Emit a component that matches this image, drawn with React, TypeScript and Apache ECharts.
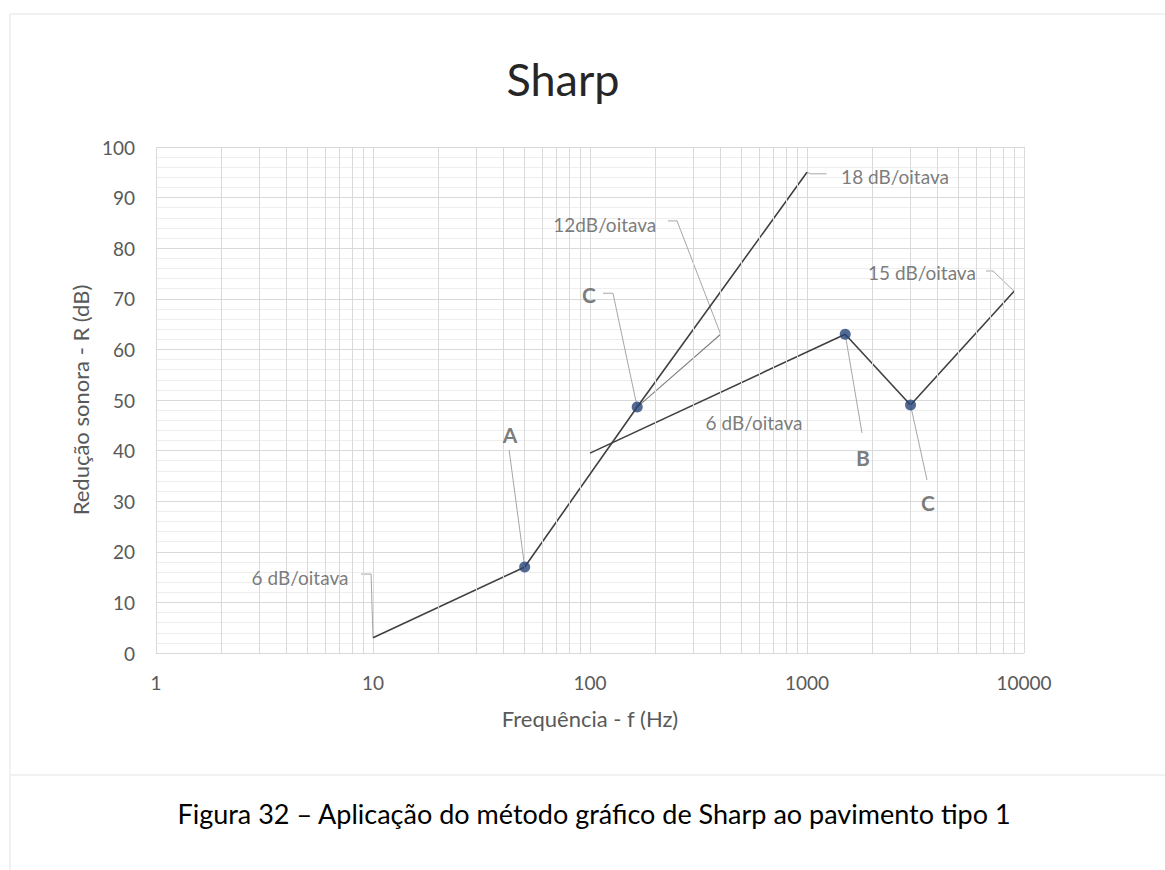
import React, { useEffect, useRef } from "react";
import * as echarts from "echarts";

// ---- data (frequency in Hz, sound reduction R in dB) ----
const FREQ_LOW = [10, 50];
const R_LOW = [3, 17];
const FREQ_18 = [50, 165, 1000];
const R_18 = [17, 48.6, 95];
const FREQ_12 = [165, 400];
const R_12 = [48.6, 63];
const FREQ_6 = [100, 1500];
const R_6 = [39.5, 63];
const FREQ_HIGH = [1500, 3000, 9000];
const R_HIGH = [63, 49, 71.5];
const POINT_FREQ = [50, 165, 1500, 3000];
const POINT_R = [17, 48.6, 63, 49];

const X_TICK_VALUES = [1, 10, 100, 1000, 10000];
const X_TICK_LABELS = ["1", "10", "100", "1000", "10000"];
const MINOR_FREQ = [
  2, 3, 4, 5, 6, 7, 8, 9,
  20, 30, 40, 50, 60, 70, 80, 90,
  200, 300, 400, 500, 600, 700, 800, 900,
  2000, 3000, 4000, 5000, 6000, 7000, 8000, 9000,
];

const LABEL_TEXT = ["A", "6 dB/oitava", "C", "12dB/oitava", "18 dB/oitava", "15 dB/oitava", "6 dB/oitava", "B", "C"];
const LABEL_FREQ = [42.8, 4.61, 98.9, 117, 2545, 3388, 570, 1811, 3612];
const LABEL_R = [43.1, 15.0, 70.8, 84.6, 94.1, 75.1, 45.6, 38.7, 29.8];
const LABEL_BOLD = [true, false, true, false, false, false, false, true, true];

const LEADER_A = [[42.4, 40.1], [50, 17]];
const LEADER_6_LOW = [[8.8, 15.6], [9.8, 15.6], [10, 3]];
const LEADER_C1 = [[114.8, 71.1], [127.6, 71.1], [165, 48.6]];
const LEADER_12 = [[228.7, 85.4], [251.8, 85.4], [400, 63]];
const LEADER_18 = [[1230, 94.7], [1040, 94.7], [1000, 95]];
const LEADER_15 = [[6683, 75.5], [7197, 75.5], [9000, 71.5]];
const LEADER_B = [[1500, 63], [1792, 43.5]];
const LEADER_C2 = [[3000, 49], [3573, 34.2]];
const LEADERS = [LEADER_A, LEADER_6_LOW, LEADER_C1, LEADER_12, LEADER_18, LEADER_15, LEADER_B, LEADER_C2];

const TITLE = "Sharp";
const X_NAME = "Frequência - f (Hz)";
const Y_NAME = "Redução sonora - R (dB)";
const CAPTION = "Figura 32 – Aplicação do método gráfico de Sharp ao pavimento tipo 1";

const FONT = "Lato, 'Open Sans', sans-serif";
const pair = (xs: number[], ys: number[]) => xs.map((x, i) => [x, ys[i]]);

export default function App() {
  const ref = useRef<HTMLDivElement>(null);
  useEffect(() => {
    document.body.style.margin = "0";
    if (!ref.current) return;
    const chart = echarts.init(ref.current, undefined, { renderer: "svg" });
    const mainLine = (name: string, data: number[][]) => ({
      name,
      type: "line",
      data,
      showSymbol: false,
      symbol: "none",
      z: 4,
      lineStyle: { color: "#404040", width: 1.6 },
    });
    const leaderSeries = LEADERS.map((d, i) => ({
      name: "leader" + i,
      type: "line",
      data: d,
      symbol: "none",
      z: 3,
      lineStyle: { color: "#a6a6a6", width: 1 },
    }));
    chart.setOption({
      animation: false,
      backgroundColor: "#ffffff",
      grid: { left: 156, top: 147, width: 868, height: 506, containLabel: false },
      xAxis: {
        type: "log",
        logBase: 10,
        min: 1,
        max: 10000,
        name: X_NAME,
        nameLocation: "middle",
        nameGap: 54,
        nameTextStyle: { color: "#595959", fontSize: 22, fontFamily: FONT },
        axisLine: { show: false },
        axisTick: { show: false },
        axisLabel: {
          color: "#595959",
          fontSize: 19,
          fontFamily: FONT,
          margin: 20,
          formatter: (v: number) => {
            const i = X_TICK_VALUES.findIndex((t) => Math.abs(t - v) < 1e-6 * t);
            return i >= 0 ? X_TICK_LABELS[i] : "";
          },
        },
        splitLine: { show: true, lineStyle: { color: "#d9d9d9", width: 1 } },
      },
      yAxis: {
        type: "value",
        min: 0,
        max: 100,
        interval: 10,
        name: Y_NAME,
        nameLocation: "middle",
        nameGap: 64,
        nameTextStyle: { color: "#595959", fontSize: 22, fontFamily: FONT },
        axisLine: { show: false },
        axisTick: { show: false },
        axisLabel: { color: "#595959", fontSize: 19, fontFamily: FONT, margin: 21 },
        splitLine: { show: true, lineStyle: { color: "#d9d9d9", width: 1 } },
        minorTick: { show: false, splitNumber: 5 },
        minorSplitLine: { show: true, lineStyle: { color: "#eeeeee", width: 1 } },
      },
      graphic: [
        { type: "line", shape: { x1: 10, y1: 14, x2: 1165, y2: 14 }, style: { stroke: "#ededed", lineWidth: 1.5 } },
        { type: "line", shape: { x1: 10, y1: 14, x2: 10, y2: 870 }, style: { stroke: "#ededed", lineWidth: 1.5 } },
        { type: "line", shape: { x1: 10, y1: 775, x2: 1165, y2: 775 }, style: { stroke: "#ededed", lineWidth: 1.5 } },
        {
          type: "text",
          x: 563,
          y: 79,
          style: { text: TITLE, fill: "#262626", font: `45px ${FONT}`, textAlign: "center", textVerticalAlign: "middle" },
        },
        {
          type: "text",
          x: 594,
          y: 813,
          style: { text: CAPTION, fill: "#000000", font: `27px ${FONT}`, textAlign: "center", textVerticalAlign: "middle" },
        },
      ],
      series: [
        {
          name: "grade",
          type: "line",
          data: [],
          z: 1,
          markLine: {
            silent: true,
            symbol: "none",
            label: { show: false },
            lineStyle: { color: "#d9d9d9", width: 1, type: "solid" },
            data: MINOR_FREQ.map((f) => ({ xAxis: f })),
          },
        },
        ...leaderSeries,
        mainLine("6 dB/oitava (baixa)", pair(FREQ_LOW, R_LOW)),
        mainLine("18 dB/oitava", pair(FREQ_18, R_18)),
        {
          name: "12 dB/oitava",
          type: "line",
          data: pair(FREQ_12, R_12),
          symbol: "none",
          z: 3,
          lineStyle: { color: "#808080", width: 1.1 },
        },
        mainLine("6 dB/oitava", pair(FREQ_6, R_6)),
        mainLine("15 dB/oitava", pair(FREQ_HIGH, R_HIGH)),
        {
          name: "pontos",
          type: "scatter",
          data: pair(POINT_FREQ, POINT_R),
          symbol: "circle",
          symbolSize: 11,
          z: 6,
          itemStyle: { color: "#264478" },
        },
        {
          name: "rótulos",
          type: "scatter",
          symbol: "circle",
          symbolSize: 2,
          z: 7,
          silent: true,
          itemStyle: { color: "rgba(255,255,255,0)" },
          data: LABEL_TEXT.map((t, i) => ({
            name: t,
            value: [LABEL_FREQ[i], LABEL_R[i]],
            label: {
              fontWeight: LABEL_BOLD[i] ? "bold" : "normal",
              fontSize: LABEL_BOLD[i] ? 21 : 19,
            },
          })),
          label: {
            show: true,
            position: "inside",
            formatter: "{b}",
            color: "#595959",
            fontFamily: FONT,
          },
        },
      ],
    });
    return () => chart.dispose();
  }, []);
  return <div ref={ref} style={{ width: 1165, height: 870, background: "#fff" }} />;
}
